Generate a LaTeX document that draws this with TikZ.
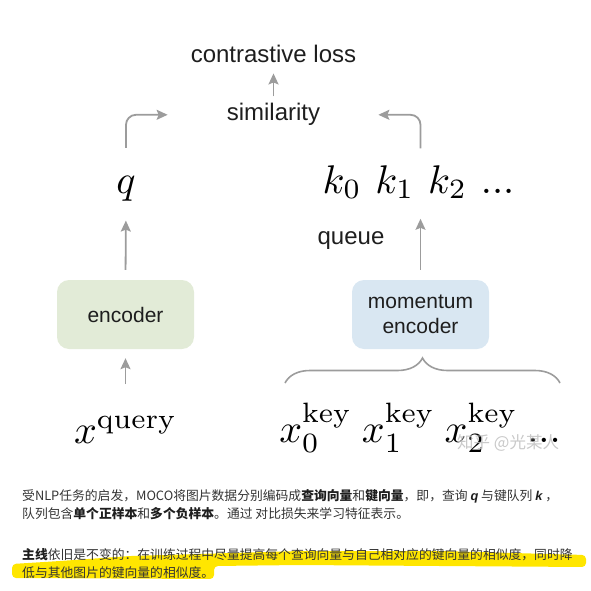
\documentclass[tikz,border=0pt]{standalone}
\usepackage{fontspec}
\usetikzlibrary{arrows.meta,decorations.pathreplacing}
\newfontfamily\labelfont{Liberation Sans}
\newfontfamily\cjkfont{Noto Sans CJK SC}
\definecolor{arrowgray}{HTML}{9C9C9C}
\definecolor{encgreen}{HTML}{E2EBD7}
\definecolor{encblue}{HTML}{D9E7F2}
\definecolor{inkgray}{HTML}{1E1E1E}
\definecolor{bodygray}{HTML}{333333}
\definecolor{marker}{HTML}{FFE600}
\newcommand{\boldpart}[1]{{\bfseries\color{inkgray}#1}}
\newcommand{\vecsym}[1]{{\labelfont\bfseries\itshape\color{inkgray}#1}}

\begin{document}
\begin{tikzpicture}[x=1pt, y=-1pt,
  lbl/.style={font=\labelfont\fontsize{24}{28}\selectfont, text=inkgray, inner sep=0pt, anchor=base},
  mathlbl/.style={font=\normalsize, scale=4, text=black, inner sep=0pt, anchor=base},
  encbox/.style={rounded corners=12pt, minimum width=137pt, minimum height=69pt, align=center,
    font=\labelfont\fontsize{21}{25}\selectfont, text=inkgray},
  arr/.style={arrowgray, line width=1.8pt, -{Stealth[length=11pt,width=10pt,inset=2pt]}},
  bodyline/.style={font=\cjkfont\fontsize{12.8}{19}\selectfont, text=bodygray, inner sep=0pt, anchor=base west}
]

  \useasboundingbox (0,0) rectangle (591,591);

  % Labels of the loss branch
  \node[lbl] (loss) at (273.5,63) {contrastive loss};
  \node[lbl] (sim) at (273.5,121) {similarity};
  \node[lbl] (queue) at (351,244) {queue};

  % Query and keys
  \node[mathlbl] (q) at (126,193) {$q$};
  \node[mathlbl] (krow) at (418.5,193) {$k_0\hspace{3.5pt}k_1\hspace{3.5pt}k_2\hspace{3.5pt}...$};

  % Encoders
  \node[encbox, fill=encgreen] (enc) at (125.5,314.5) {encoder};
  \node[encbox, fill=encblue] (menc) at (420.5,314.5) {momentum\\encoder};

  % Inputs
  \node[mathlbl] (xq) at (125.5,443) {$x^{\mathrm{query}}$};
  \node[mathlbl] (xrow) at (420,442) {$x^{\mathrm{key}}_0\hspace{2.5pt}x^{\mathrm{key}}_1\hspace{2.5pt}x^{\mathrm{key}}_2\hspace{2.5pt}...$};
  \node[font=\cjkfont\fontsize{16.5}{16.5}\selectfont, text=gray!50, opacity=0.85, anchor=west, inner sep=0pt] (mark) at (457,443) {知乎 @光某人};

  % Arrows
  \draw[arr, shorten <=7pt, shorten >=10pt] (sim.north) -- (loss.south);
  \draw[arr, rounded corners=10pt, shorten <=27pt, shorten >=59pt] (q.north) |- (sim.west);
  \draw[arr, rounded corners=10pt, shorten <=16pt, shorten >=58pt] (krow.north -| menc.north) |- (sim.east);
  \draw[arr, shorten <=10pt, shorten >=19pt] (enc.north) -- (q.south);
  \draw[arr, shorten <=10pt, shorten >=19pt] (menc.north) -- (krow.south -| menc.north);
  \draw[arr, shorten <=31pt, shorten >=9pt] (xq.north) -- (enc.south);

  % Brace over the keys
  \draw[arrowgray, line width=1.6pt, decorate, decoration={brace, amplitude=25pt}] (285,383) -- (560,383);

  % Marker stroke
  \fill[marker, rounded corners=4pt] (12,564) -- (60,561) -- (130,556) -- (300,551) -- (440,551)
    -- (586,555) -- (586,567) -- (440,566) -- (300,565) -- (214,566) -- (214,579) -- (12,578) -- cycle;

  % Caption lines
  \node[bodyline] (line1) at (22,500) {受NLP任务的启发，MOCO将图片数据分别编码成\boldpart{查询向量}和\boldpart{键向量}，即，查询 \vecsym{q} 与键队列 \vecsym{k} ，};
  \node[bodyline] (line2) at (22,518) {队列包含\boldpart{单个正样本}和\boldpart{多个负样本}。通过 对比损失来学习特征表示。};
  \node[bodyline] (line3) at (22,559) {\boldpart{主线}依旧是不变的：在训练过程中尽量提高每个查询向量与自己相对应的键向量的相似度，同时降};
  \node[bodyline] (line4) at (22,577) {低与其他图片的键向量的相似度。};

\end{tikzpicture}
\end{document}
